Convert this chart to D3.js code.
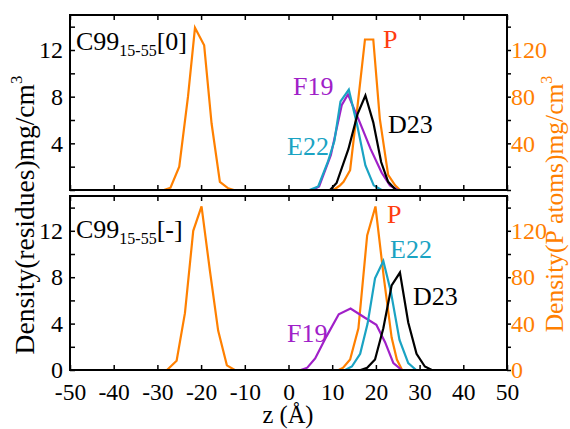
<!DOCTYPE html>
<html>
<head>
<meta charset="utf-8">
<script src="https://cdn.jsdelivr.net/npm/d3@7"></script>
<style>
  body { margin: 0; background: #fff; }
  svg text { font-family: "Liberation Serif", "Times New Roman", serif; }
</style>
</head>
<body>
<div id="chart"></div>
<script>
// density profiles along z: [z, density]
// P atoms go on the right axis, residues on the left one
var zTicks = [-50, -40, -30, -20, -10, 0, 10, 20, 30, 40, 50];
var leftTicks = [0, 2, 4, 6, 8, 10, 12, 14];
var rightTicks = [0, 20, 40, 60, 80, 100, 120, 140];
var leftLabelsTop = [4, 8, 12], leftLabelsBottom = [0, 4, 8, 12];
var rightLabelsTop = [40, 80, 120], rightLabelsBottom = [0, 40, 80, 120];

var topPLeft = [[-28.5, 0], [-27, 2], [-25, 20], [-23, 80], [-21.4, 139], [-19.3, 124], [-17.6, 57], [-15.7, 7], [-13.8, 1.4], [-12.5, 0]];
var topPRight = [[10.3, 0], [11.8, 4], [12.6, 7], [14.1, 17], [15.8, 72], [17.5, 129], [19.4, 129], [20.9, 61], [22.8, 13], [24.4, 4], [25.5, 0]];
var topF19 = [[5.5, 0], [7, 0.3], [9.7, 3], [12.2, 7.3], [13.6, 8.2], [16.2, 5.9], [18.8, 3.5], [21.3, 1.5], [23.2, 0.4], [25, 0]];
var topE22 = [[4.8, 0], [6.8, 0.3], [9, 2.4], [10.5, 4.2], [11.9, 7.6], [13.8, 8.6], [15.7, 5.6], [17.6, 2.1], [19.5, 0.4], [21.3, 0]];
var topD23 = [[9.5, 0], [11, 0.6], [13.7, 3.5], [15.8, 6.5], [17.6, 8.1], [19.4, 5.8], [21.2, 2.4], [22.8, 0.7], [24.6, 0]];

var botPLeft = [[-27.8, 0], [-25.6, 8], [-23.7, 49], [-21.8, 120], [-19.9, 141], [-18, 86], [-16.1, 34], [-14.1, 4], [-12.3, 0]];
var botPRight = [[11.5, 0], [12.5, 2], [14.1, 9], [16, 36], [18, 116], [19.9, 141], [21.8, 80], [23.6, 28], [24.8, 9], [26, 0]];
var botF19 = [[2.8, 0], [4.3, 0.2], [6.1, 1.0], [8.7, 2.9], [11.5, 4.8], [14.2, 5.3], [17.5, 4.5], [20.1, 3.9], [22.1, 2.4], [24, 0.6], [25.9, 0]];
var botE22 = [[13, 0], [14.5, 0.3], [16.4, 1.4], [18.1, 4], [19.8, 7.9], [21.7, 9.4], [23.4, 6.8], [25.4, 2.6], [27.4, 0.6], [29.2, 0]];
var botD23 = [[16.5, 0], [18, 0.2], [19.8, 0.9], [21.7, 3.6], [23.6, 7.3], [25.5, 8.4], [27.4, 4.1], [29.3, 1.4], [31.2, 0.3], [32.8, 0]];

var orange = "#ff8000", purple = "#a020c8", cyan = "#1aa3c3", red = "#ff3c10";

var svg = d3.select("#chart").append("svg")
    .attr("width", 570).attr("height", 429);

var x = d3.scaleLinear().domain([-50, 50]).range([70, 507]);

var panels = [
  { y0: 15, y1: 190, tag: "[0]", labY: 50, bottom: false,
    leftLabels: leftLabelsTop, rightLabels: rightLabelsTop,
    p: [topPLeft, topPRight], f19: topF19, e22: topE22, d23: topD23,
    names: [["P", red, 383, 48], ["F19", purple, 293, 95], ["E22", cyan, 287, 155], ["D23", "#000", 388, 133]] },
  { y0: 196, y1: 370, tag: "[-]", labY: 238, bottom: true,
    leftLabels: leftLabelsBottom, rightLabels: rightLabelsBottom,
    p: [botPLeft, botPRight], f19: botF19, e22: botE22, d23: botD23,
    names: [["P", red, 387, 223], ["E22", cyan, 390, 258], ["D23", "#000", 413, 305], ["F19", purple, 287, 342]] }
];

function styleAxis(g, color, size) {
  g.select(".domain").remove();
  g.selectAll("line").attr("stroke", "#000").attr("stroke-width", 1.5);
  g.selectAll("text").attr("font-size", size || 24).attr("fill", color);
}

panels.forEach(function(pn) {
  var yL = d3.scaleLinear().domain([0, 15]).range([pn.y1, pn.y0]);
  var yR = d3.scaleLinear().domain([0, 150]).range([pn.y1, pn.y0]);
  var g = svg.append("g");

  var lineL = d3.line().x(function(d) { return x(d[0]); }).y(function(d) { return yL(d[1]); });
  var lineR = d3.line().x(function(d) { return x(d[0]); }).y(function(d) { return yR(d[1]); });

  pn.p.forEach(function(s) {
    g.append("path").datum(s).attr("d", lineR)
      .attr("fill", "none").attr("stroke", orange).attr("stroke-width", 2.2);
  });
  [[pn.f19, purple], [pn.e22, cyan], [pn.d23, "#000"]].forEach(function(s) {
    g.append("path").datum(s[0]).attr("d", lineL)
      .attr("fill", "none").attr("stroke", s[1]).attr("stroke-width", 2.2);
  });

  // axes, ticks point inward except on the right
  g.append("g").attr("transform", "translate(70,0)")
    .call(d3.axisLeft(yL).tickValues(leftTicks).tickSize(-5).tickPadding(7)
      .tickFormat(function(d) { return pn.leftLabels.indexOf(d) > -1 ? d : ""; }))
    .call(styleAxis, "#000");

  g.append("g").attr("transform", "translate(507,0)")
    .call(d3.axisRight(yR).tickValues(rightTicks).tickSize(4).tickPadding(0)
      .tickFormat(function(d) { return pn.rightLabels.indexOf(d) > -1 ? d : ""; }))
    .call(styleAxis, orange);

  g.append("g").attr("transform", "translate(0," + pn.y0 + ")")
    .call(d3.axisTop(x).tickValues(zTicks).tickSize(-5).tickFormat(""))
    .call(styleAxis, "#000");

  g.append("g").attr("transform", "translate(0," + pn.y1 + ")")
    .call(d3.axisBottom(x).tickValues(zTicks).tickSize(-5).tickPadding(13)
      .tickFormat(function(d) { return pn.bottom ? d : ""; }))
    .call(styleAxis, "#000", 23.5);

  g.append("rect").attr("x", 70).attr("y", pn.y0)
    .attr("width", 437).attr("height", pn.y1 - pn.y0)
    .attr("fill", "none").attr("stroke", "#000").attr("stroke-width", 2);

  var lab = g.append("text").attr("x", 76).attr("y", pn.labY)
    .attr("font-size", 26).attr("fill", "#000");
  lab.append("tspan").text("C99");
  lab.append("tspan").attr("dy", 6).attr("font-size", 16).text("15-55");
  lab.append("tspan").attr("dy", -6).text(pn.tag);

  pn.names.forEach(function(n) {
    g.append("text").attr("x", n[2]).attr("y", n[3])
      .attr("font-size", 26).attr("fill", n[1]).text(n[0]);
  });
});

svg.append("text").attr("x", 288).attr("y", 423)
  .attr("text-anchor", "middle").attr("font-size", 24.5).text("z (Å)");

var lt = svg.append("text").attr("transform", "translate(34,215) rotate(-90)")
  .attr("text-anchor", "middle").attr("font-size", 27.5).attr("fill", "#000");
lt.append("tspan").text("Density(residues)mg/cm");
lt.append("tspan").attr("font-size", 17).attr("dy", -12).text("3");

var rt = svg.append("text").attr("transform", "translate(563,204) rotate(-90)")
  .attr("text-anchor", "middle").attr("font-size", 25.5).attr("fill", orange);
rt.append("tspan").text("Density(P\u00a0atoms)mg/cm");
rt.append("tspan").attr("font-size", 16).attr("dy", -11).text("3");
</script>
</body>
</html>
